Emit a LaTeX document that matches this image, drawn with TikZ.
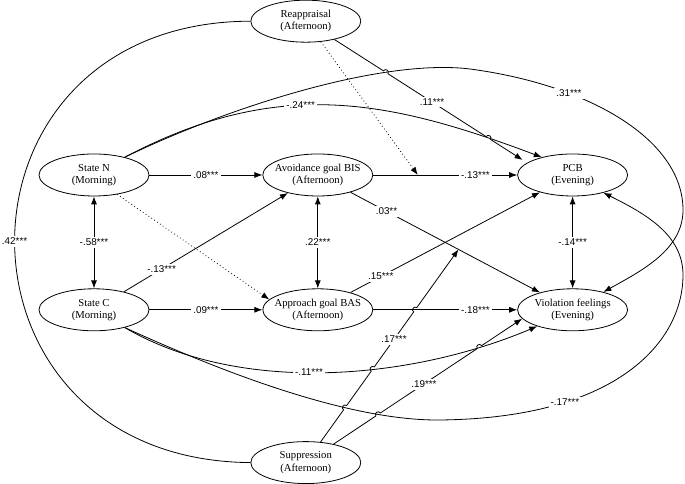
\documentclass[tikz,border=0pt]{standalone}
\usepackage{fontspec}
\setmainfont{Liberation Serif}
\newfontfamily\labelfont{Liberation Sans}
\usetikzlibrary{arrows.meta, positioning, calc, intersections, shapes.geometric}

\begin{document}
\begin{tikzpicture}[x=0.75pt, y=0.75pt,
  var/.style={draw, ellipse, line width=0.6pt, minimum width=82.5pt, minimum height=31.5pt,
    inner xsep=-5pt, inner ysep=0pt, align=center, font=\fontsize{8}{9.2}\selectfont},
  lbl/.style={fill=white, inner sep=1.5pt, font=\labelfont\fontsize{7.4}{8}\selectfont},
  arr/.style={-{Latex[length=6pt, width=4.5pt]}, line width=0.6pt},
  darr/.style={{Latex[length=6pt, width=4.5pt]}-{Latex[length=6pt, width=4.5pt]}, line width=0.6pt},
  dotarr/.style={arr, dotted},
  hop/.style={bend left=90, looseness=1.7}
]
\useasboundingbox (0,0) rectangle (685,484);

% variables
\node[var] (stateN) at (94,309) {State N\\(Morning)};
\node[var, below=69pt of stateN] (stateC) {State C\\(Morning)};
\node[var, right=84.75pt of stateN] (avoid) {Avoidance goal BIS\\(Afternoon)};
\node[var, below=69pt of avoid] (approach) {Approach goal BAS\\(Afternoon)};
\node[var, right=108pt of avoid] (pcb) {PCB\\(Evening)};
\node[var, below=69pt of pcb] (viol) {Violation feelings\\(Evening)};
\node[var, above=83.25pt of avoid, xshift=-9pt] (reapp) {Reappraisal\\(Afternoon)};
\node[var, below=82.5pt of approach, xshift=-9pt] (supp) {Suppression\\(Afternoon)};

% long curves
\draw[line width=0.6pt] (reapp.west) .. controls (-64,462) and (-64,24) .. node[lbl]{.42***} (supp.west);
\draw[arr, name path=c24] (stateN.30) .. controls (277,407) and (387,385) .. node[lbl, pos=0.42]{-.24***} (pcb.150);
\draw[arr, name path=c31] (stateN.30) .. controls (224,375) and (380,426) .. (470,415)
  .. controls (590,399) and (683,344) .. node[lbl, pos=0.3]{.31***} (683,274)
  .. controls (683,234) and (641,213) .. (viol.30);
\draw[arr, name path=c11] (stateC.-30) .. controls (240,89) and (410,104) .. node[lbl, pos=0.46]{-.11***} (viol.205);
\draw[arr, name path=c17] (stateC.-30) .. controls (224,111) and (350,63) .. (440,64)
  .. controls (620,66) and (683,144) .. node[lbl, pos=0.28]{-.17***} (683,209)
  .. controls (683,249) and (646,270) .. (pcb.-30);

% direct paths
\draw[arr] (stateN) -- node[lbl]{.08***} (avoid);
\draw[arr] (stateC) -- node[lbl]{.09***} (approach);
\draw[darr] (stateN) -- node[lbl]{-.58***} (stateC);
\draw[arr] (stateC) -- node[lbl, pos=0.23]{-.13***} (avoid);
\draw[dotarr] (stateN.-40) -- (approach.168);
\draw[darr] (avoid) -- node[lbl]{.22***} (approach);
\draw[arr] (avoid) -- coordinate[pos=0.31] (m13) node[lbl, pos=0.71]{-.13***} (pcb);
\draw[arr, name path=l18] (approach) -- node[lbl, pos=0.71]{-.18***} (viol);
\draw[darr] (pcb) -- node[lbl]{-.14***} (viol);
\draw[arr] (avoid) -- node[lbl, pos=0.19]{.03**} coordinate[pos=0.57] (m03) (viol);
\draw[arr] (approach) -- node[lbl, pos=0.16]{.15***} (pcb);
\draw[dotarr] (reapp) -- (m13);

% paths from the moderators, hopping over crossings
\path[name path=s17] (supp) -- (m03);
\path[name path=s19] (supp) -- (viol.190);
\path[name path=r11] (reapp) -- (pcb.165);
\path[name intersections={of=s17 and c17, by=ha}];
\path[name intersections={of=s17 and c11, by=hb}];
\path[name intersections={of=s17 and l18, by=hc}];
\path[name intersections={of=s19 and c17, by=hd}];
\path[name intersections={of=s19 and c11, by=he}];
\path[name intersections={of=r11 and c31, by=hf}];
\path[name intersections={of=r11 and c24, by=hg}];

\draw[arr] (supp) -- ($(ha)!2pt!(supp)$) to[hop] ($(ha)!2pt!(m03)$)
  -- ($(hb)!2pt!(supp)$) to[hop] ($(hb)!2pt!(m03)$)
  -- node[lbl]{.17***} ($(hc)!2pt!(supp)$) to[hop] ($(hc)!2pt!(m03)$) -- (m03);
\draw[arr] (supp) -- ($(hd)!2pt!(supp)$) to[hop] ($(hd)!2pt!(viol.190)$)
  -- node[lbl, pos=0.45]{.19***} ($(he)!2pt!(supp)$) to[hop] ($(he)!2pt!(viol.190)$) -- (viol.190);
\draw[arr, shorten >=4pt] (reapp) -- ($(hf)!2pt!(reapp)$) to[hop] ($(hf)!2pt!(pcb.165)$)
  -- node[lbl, pos=0.45]{.11***} ($(hg)!2pt!(reapp)$) to[hop] ($(hg)!2pt!(pcb.165)$) -- (pcb.165);
\end{tikzpicture}
\end{document}
